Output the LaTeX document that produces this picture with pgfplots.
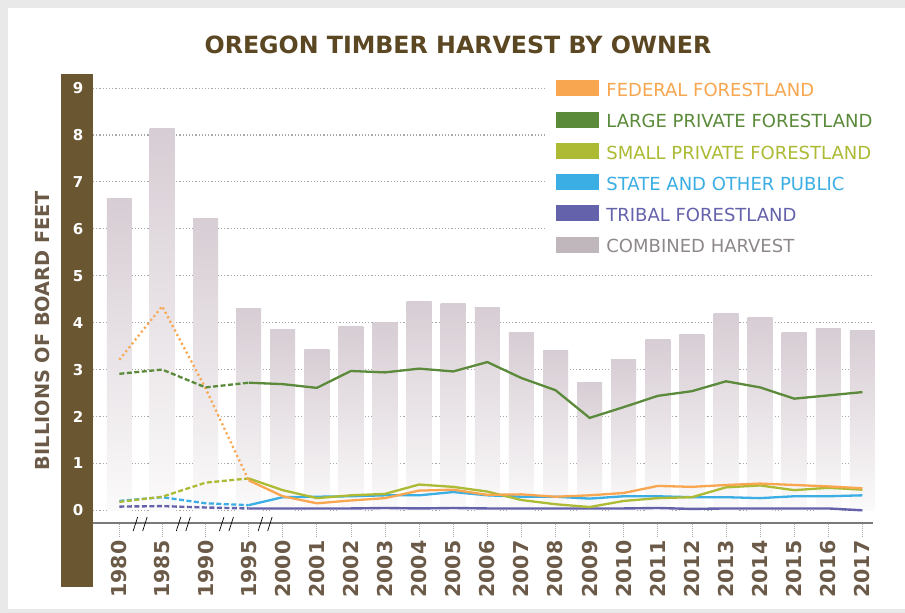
\documentclass[border=0pt]{standalone}
\usepackage{fontspec}
\setmainfont{DejaVu Sans}
\usepackage{pgfplots}
\pgfplotsset{compat=1.18}
\definecolor{fedc}{HTML}{F8A64F}
\definecolor{largec}{HTML}{5A8A3A}
\definecolor{smallc}{HTML}{ADBA34}
\definecolor{statec}{HTML}{3BAEE3}
\definecolor{tribalc}{HTML}{6562AC}
\definecolor{combc}{HTML}{BFB7BB}
\definecolor{combtext}{HTML}{8E888B}
\definecolor{bartop}{HTML}{D7CDD4}
\definecolor{barbot}{HTML}{FBFAFA}
\definecolor{band}{HTML}{6B5632}
\definecolor{titlec}{HTML}{5B4722}
\definecolor{labc}{HTML}{6B5A48}
\definecolor{framec}{HTML}{E9E9E9}
\definecolor{gridc}{HTML}{A8A8A8}
\definecolor{axisc}{HTML}{7A7A7A}
\pgfplotsset{harvbar/.style={ybar, bar width=25pt, bar shift=0pt, draw=none, top color=bartop, bottom color=barbot, forget plot}}
\begin{document}
\begin{tikzpicture}
\fill[framec] (0,0) rectangle (905pt,613pt);
\fill[white] (8pt,4pt) rectangle (905pt,605pt);
\path[use as bounding box] (0,0) rectangle (905pt,613pt);
\fill[band] (61pt,26pt) rectangle (93pt,539pt);
\node[font=\fontsize{23.7}{25}\selectfont\bfseries, text=titlec] at (458pt,568pt) {OREGON TIMBER HARVEST BY OWNER};
\begin{axis}[
  at={(93pt,90pt)}, anchor=south west,
  scale only axis, width=780pt, height=449pt,
  xmin=-5.563, xmax=17.31, ymin=-0.27, ymax=9.30,
  clip=false,
  axis x line*=bottom, axis y line*=left,
  y axis line style={draw=none},
  x axis line style={draw=axisc, line width=1.3pt},
  /pgf/number format/assume math mode=true,
  xtick={-4.79,-3.534,-2.262,-1,0,1,2,3,4,5,6,7,8,9,10,11,12,13,14,15,16,17},
  xticklabels={1980,1985,1990,1995,2000,2001,2002,2003,2004,2005,2006,2007,2008,2009,2010,2011,2012,2013,2014,2015,2016,2017},
  ytick={0,1,2,3,4,5,6,7,8,9},
  tick align=outside,
  major tick length=14pt,
  xtick style={draw=gridc, dash pattern=on 1pt off 1pt, line width=0.8pt},
  ytick style={draw=none},
  xticklabel style={rotate=90, anchor=east, font=\fontsize{20.5}{20.5}\selectfont\bfseries, text=labc},
  yticklabel style={anchor=center, xshift=-1pt, font=\fontsize{15}{15}\selectfont\bfseries, text=white},
  ymajorgrids,
  y grid style={draw=gridc, dash pattern=on 1.2pt off 2pt, line width=1.1pt},
  ylabel={BILLIONS OF BOARD FEET},
  ylabel style={at={(axis description cs:-0.0654,0.4287)}, anchor=center, font=\fontsize{19.3}{19.3}\selectfont\bfseries, text=labc},
  legend cell align=left,
  legend style={at={(axis description cs:0.5808,0.9989)}, anchor=north west, draw=none, fill=white, inner xsep=10pt, inner ysep=6pt, outer sep=0pt, row sep=13.6pt, column sep=8pt, font=\fontsize{18}{18}\selectfont, nodes={inner sep=0pt}},
]
% combined harvest bars
\addplot[harvbar] coordinates {(-4.79,6.64)};
\addplot[harvbar] coordinates {(-3.534,8.14)};
\addplot[harvbar] coordinates {(-2.262,6.22)};
\addplot[harvbar] coordinates {(-1,4.30)};
\addplot[harvbar] coordinates {(0,3.86)};
\addplot[harvbar] coordinates {(1,3.43)};
\addplot[harvbar] coordinates {(2,3.92)};
\addplot[harvbar] coordinates {(3,4.00)};
\addplot[harvbar] coordinates {(4,4.45)};
\addplot[harvbar] coordinates {(5,4.41)};
\addplot[harvbar] coordinates {(6,4.32)};
\addplot[harvbar] coordinates {(7,3.79)};
\addplot[harvbar] coordinates {(8,3.41)};
\addplot[harvbar] coordinates {(9,2.73)};
\addplot[harvbar] coordinates {(10,3.22)};
\addplot[harvbar] coordinates {(11,3.64)};
\addplot[harvbar] coordinates {(12,3.75)};
\addplot[harvbar] coordinates {(13,4.20)};
\addplot[harvbar] coordinates {(14,4.12)};
\addplot[harvbar] coordinates {(15,3.78)};
\addplot[harvbar] coordinates {(16,3.88)};
\addplot[harvbar] coordinates {(17,3.84)};
% tribal
\addplot[tribalc, line width=2.4pt, dash pattern=on 5pt off 2.5pt, forget plot] coordinates {(-4.79,0.08)(-3.534,0.09)(-2.262,0.06)(-1,0.04)};
\addplot[tribalc, line width=2.4pt, forget plot] coordinates {(-1,0.04)(0,0.04)(1,0.04)(2,0.04)(3,0.05)(4,0.04)(5,0.05)(6,0.04)(7,0.04)(8,0.04)(9,0.04)(10,0.04)(11,0.05)(12,0.03)(13,0.04)(14,0.04)(15,0.04)(16,0.04)(17,0.00)};
% state
\addplot[statec, line width=2.3pt, dash pattern=on 5pt off 2.5pt, forget plot] coordinates {(-4.79,0.20)(-3.534,0.28)(-2.262,0.15)(-1,0.11)};
\addplot[statec, line width=2.3pt, forget plot] coordinates {(-1,0.11)(0,0.28)(1,0.29)(2,0.30)(3,0.32)(4,0.32)(5,0.39)(6,0.32)(7,0.29)(8,0.29)(9,0.25)(10,0.30)(11,0.30)(12,0.28)(13,0.28)(14,0.26)(15,0.30)(16,0.30)(17,0.32)};
% small private
\addplot[smallc, line width=2.3pt, dash pattern=on 5pt off 2.5pt, forget plot] coordinates {(-4.79,0.18)(-3.534,0.29)(-2.262,0.59)(-1,0.68)};
\addplot[smallc, line width=2.3pt, forget plot] coordinates {(-1,0.68)(0,0.43)(1,0.26)(2,0.32)(3,0.35)(4,0.55)(5,0.50)(6,0.40)(7,0.22)(8,0.13)(9,0.07)(10,0.20)(11,0.26)(12,0.28)(13,0.49)(14,0.53)(15,0.43)(16,0.48)(17,0.44)};
% federal
\addplot[fedc, line width=2.3pt, dash pattern=on 2pt off 3pt, forget plot] coordinates {(-4.79,3.21)(-3.534,4.35)(-2.262,2.60)(-1,0.64)};
\addplot[fedc, line width=2.3pt, forget plot] coordinates {(-1,0.64)(0,0.30)(1,0.15)(2,0.21)(3,0.26)(4,0.42)(5,0.44)(6,0.33)(7,0.34)(8,0.29)(9,0.32)(10,0.37)(11,0.52)(12,0.50)(13,0.54)(14,0.57)(15,0.54)(16,0.51)(17,0.47)};
% large private
\addplot[largec, line width=2.3pt, dash pattern=on 5pt off 2.5pt, forget plot] coordinates {(-4.79,2.91)(-3.534,3.00)(-2.262,2.62)(-1,2.72)};
\addplot[largec, line width=2.3pt, forget plot] coordinates {(-1,2.72)(0,2.69)(1,2.61)(2,2.97)(3,2.94)(4,3.02)(5,2.96)(6,3.16)(7,2.82)(8,2.56)(9,1.97)(10,2.20)(11,2.44)(12,2.54)(13,2.75)(14,2.62)(15,2.38)(16,2.45)(17,2.52)};
% axis break marks
\pgfplotsinvokeforeach{-4.165,-2.9,-1.635,-0.5}{
  \draw[black, line width=0.7pt] ([shift={(-7.5pt,-8pt)}]axis cs:#1,-0.27) -- ++(4.5pt,14pt);
  \draw[black, line width=0.7pt] ([shift={(2pt,-8pt)}]axis cs:#1,-0.27) -- ++(4.5pt,14pt);
}
% legend
\addlegendimage{legend image code/.code={\fill[fedc] (0pt,-5pt) rectangle (42pt,10pt);}}
\addlegendentry[text=fedc]{FEDERAL FORESTLAND}
\addlegendimage{legend image code/.code={\fill[largec] (0pt,-5pt) rectangle (42pt,10pt);}}
\addlegendentry[text=largec]{LARGE PRIVATE FORESTLAND}
\addlegendimage{legend image code/.code={\fill[smallc] (0pt,-5pt) rectangle (42pt,10pt);}}
\addlegendentry[text=smallc]{SMALL PRIVATE FORESTLAND}
\addlegendimage{legend image code/.code={\fill[statec] (0pt,-5pt) rectangle (42pt,10pt);}}
\addlegendentry[text=statec]{STATE AND OTHER PUBLIC}
\addlegendimage{legend image code/.code={\fill[tribalc] (0pt,-5pt) rectangle (42pt,10pt);}}
\addlegendentry[text=tribalc]{TRIBAL FORESTLAND}
\addlegendimage{legend image code/.code={\fill[combc] (0pt,-5pt) rectangle (42pt,10pt);}}
\addlegendentry[text=combtext]{COMBINED HARVEST}
\end{axis}
\end{tikzpicture}
\end{document}
